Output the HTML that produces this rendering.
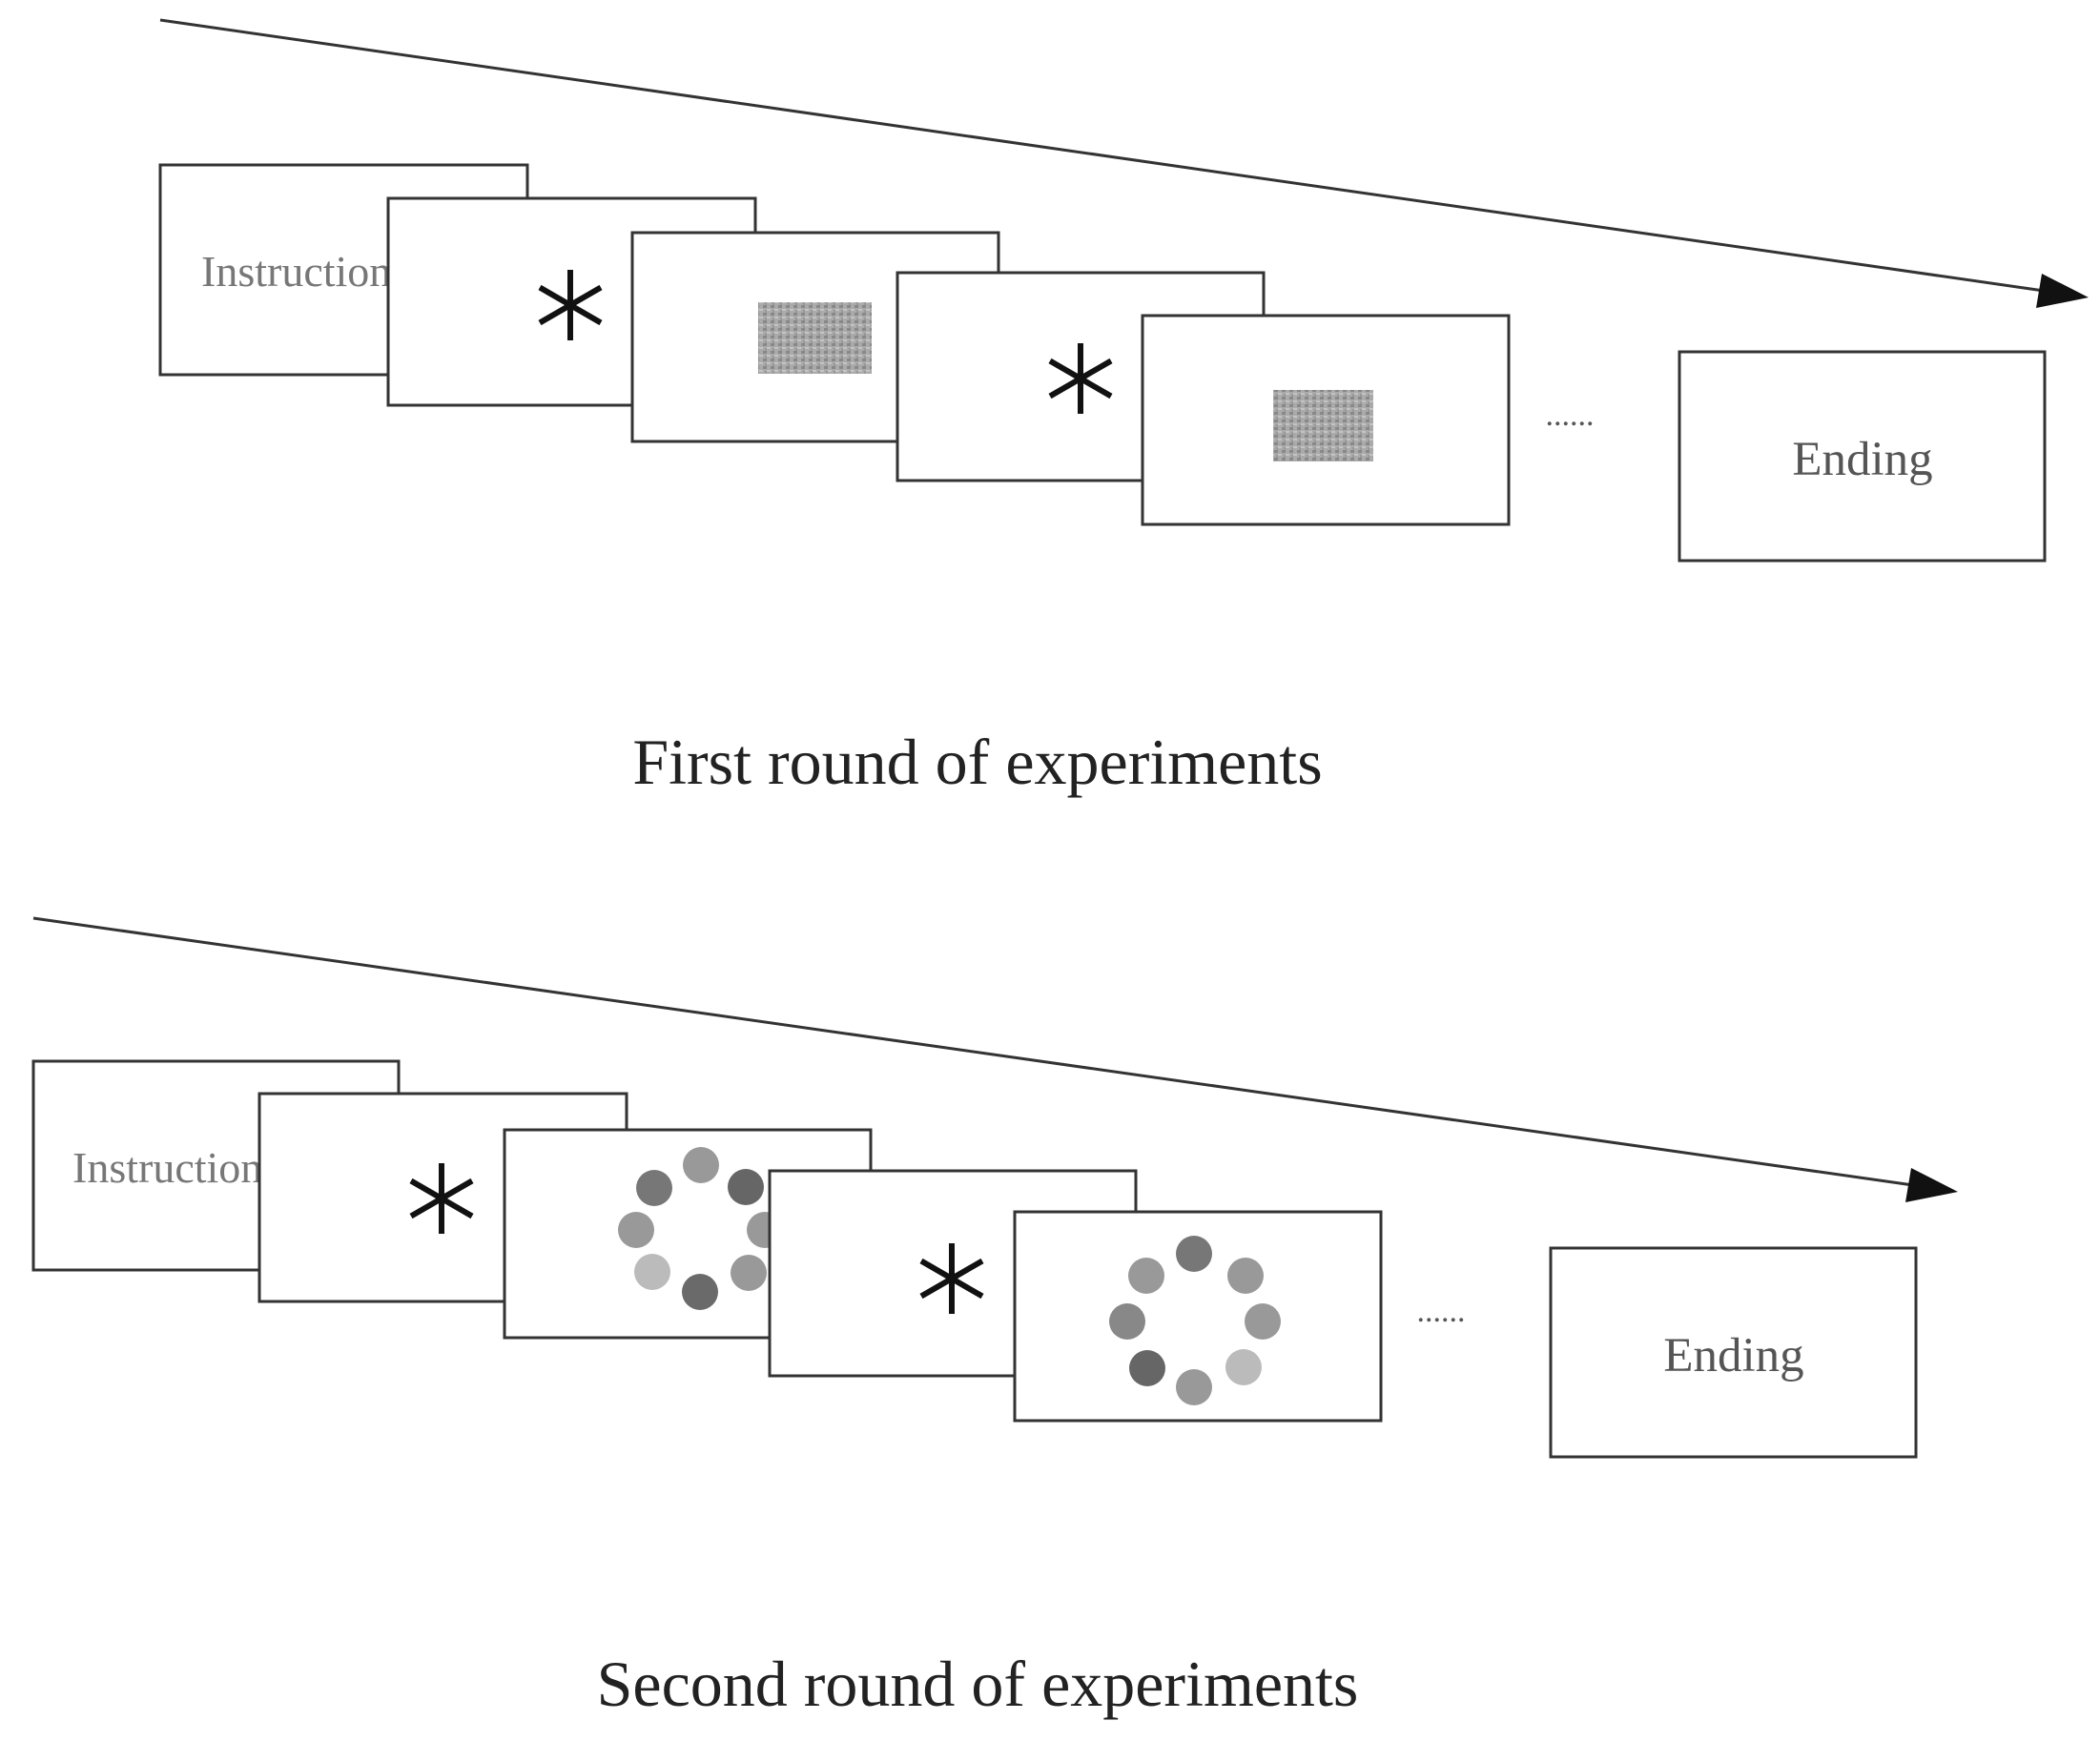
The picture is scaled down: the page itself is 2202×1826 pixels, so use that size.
<!DOCTYPE html>
<html><head><style>body{margin:0;background:#fff}svg{display:block}</style></head><body>
<svg width="2202" height="1826" xmlns="http://www.w3.org/2000/svg">
<defs>
<pattern id="nz" width="8" height="8" patternUnits="userSpaceOnUse">
<rect width="8" height="8" fill="#aaa"/><rect x="0" y="0" width="4" height="3" fill="#888"/><rect x="4" y="4" width="4" height="2" fill="#c4c4c4"/><rect x="2" y="5" width="2" height="3" fill="#999"/>
</pattern>
<g id="ast" stroke="#111" stroke-width="6" stroke-linecap="butt">
<line x1="0" y1="-37" x2="0" y2="37"/>
<line x1="-32" y1="-18.5" x2="32" y2="18.5"/>
<line x1="-32" y1="18.5" x2="32" y2="-18.5"/>
</g>
</defs>
<g stroke="#333" stroke-width="3" fill="#fff">
<line x1="168" y1="21" x2="2150" y2="306"/>
<polygon points="2190,312 2135,323 2141,287" fill="#111" stroke="none"/>
<rect x="168" y="173" width="385" height="220"/>
</g>
<text x="211" y="300" font-family="Liberation Serif, serif" font-size="46" fill="#777">Instruction</text>
<g stroke="#333" stroke-width="3" fill="#fff">
<rect x="407" y="208" width="385" height="217"/>
<rect x="663" y="244" width="384" height="219"/>
<rect x="941" y="286" width="384" height="218"/>
<rect x="1198" y="331" width="384" height="219"/>
<rect x="1761" y="369" width="383" height="219"/>
</g>
<use href="#ast" x="598" y="320"/>
<use href="#ast" x="1133" y="397"/>
<rect x="795" y="317" width="119" height="75" fill="url(#nz)"/>
<rect x="1335" y="409" width="105" height="75" fill="url(#nz)"/>
<text x="1646" y="446" font-family="Liberation Serif, serif" font-size="34" text-anchor="middle" fill="#555">......</text>
<text x="1953" y="498" font-family="Liberation Serif, serif" font-size="51" text-anchor="middle" fill="#555">Ending</text>
<text x="1025" y="822" font-family="Liberation Serif, serif" font-size="68" text-anchor="middle" fill="#222">First round of experiments</text>

<g stroke="#333" stroke-width="3" fill="#fff">
<line x1="35" y1="963" x2="2013" y2="1244"/>
<polygon points="2053,1250 1998,1261 2004,1225" fill="#111" stroke="none"/>
<rect x="35" y="1113" width="383" height="219"/>
</g>
<text x="76" y="1240" font-family="Liberation Serif, serif" font-size="46" fill="#777">Instruction</text>
<g stroke="#333" stroke-width="3" fill="#fff">
<rect x="272" y="1147" width="385" height="218"/>
<rect x="529" y="1185" width="384" height="218"/>
</g>
<circle cx="735" cy="1222" r="19" fill="#999"/>
<circle cx="782" cy="1245" r="19" fill="#666"/>
<circle cx="802" cy="1290" r="19" fill="#999"/>
<circle cx="785" cy="1335" r="19" fill="#999"/>
<circle cx="734" cy="1355" r="19" fill="#6a6a6a"/>
<circle cx="684" cy="1334" r="19" fill="#bbb"/>
<circle cx="667" cy="1290" r="19" fill="#999"/>
<circle cx="686" cy="1246" r="19" fill="#777"/>
<g stroke="#333" stroke-width="3" fill="#fff">
<rect x="807" y="1228" width="384" height="215"/>
<rect x="1064" y="1271" width="384" height="219"/>
<rect x="1626" y="1309" width="383" height="219"/>
</g>
<use href="#ast" x="463" y="1257"/>
<use href="#ast" x="998" y="1341"/>
<circle cx="1252" cy="1315" r="19" fill="#777"/>
<circle cx="1306" cy="1338" r="19" fill="#999"/>
<circle cx="1324" cy="1386" r="19" fill="#999"/>
<circle cx="1304" cy="1434" r="19" fill="#bbb"/>
<circle cx="1252" cy="1455" r="19" fill="#999"/>
<circle cx="1203" cy="1435" r="19" fill="#666"/>
<circle cx="1182" cy="1386" r="19" fill="#888"/>
<circle cx="1202" cy="1338" r="19" fill="#999"/>
<text x="1511" y="1386" font-family="Liberation Serif, serif" font-size="34" text-anchor="middle" fill="#555">......</text>
<text x="1818" y="1438" font-family="Liberation Serif, serif" font-size="51" text-anchor="middle" fill="#555">Ending</text>
<text x="1025" y="1789" font-family="Liberation Serif, serif" font-size="68" text-anchor="middle" fill="#222">Second round of experiments</text>
</svg>
</body></html>
